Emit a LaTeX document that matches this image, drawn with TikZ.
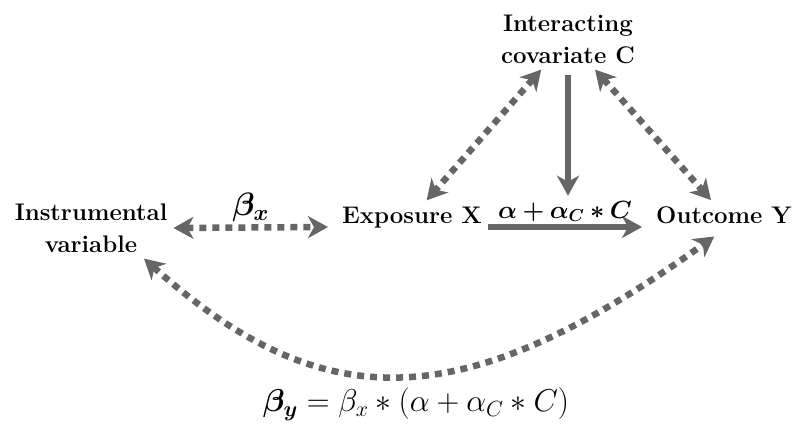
\documentclass[tikz,border=0pt]{standalone}
\usepackage{amsmath,bm}
\usetikzlibrary{arrows.meta}
\definecolor{arrowgray}{HTML}{666666}

\begin{document}
\begin{tikzpicture}[x=1pt,y=-1pt,
  every node/.style={font=\fontsize{24}{32}\selectfont\bfseries,inner sep=6pt},
  ghead/.tip={Stealth[length=20pt,width=22pt,inset=6pt]},
  dotarrow/.style={arrowgray,line width=6.5pt,dash pattern=on 7pt off 6pt,ghead-ghead},
  solidarrow/.style={arrowgray,line width=6.5pt,-ghead},
  lab/.style={inner sep=2pt,text=black}]
  \useasboundingbox (0,0) rectangle (796,425);
  \node[align=center] (iv) at (91,228) {Instrumental\\variable};
  \node[anchor=base] (expo) at (412,223) {Exposure X};
  \node[anchor=base] (outc) at (724,223) {Outcome Y};
  \node[align=center] (cov) at (568,39) {Interacting\\covariate C};
  \draw[dotarrow] (iv.east) -- ([xshift=-8pt,yshift=-4pt]expo.base west)
    node[midway,above,lab] {\scalebox{1.3}{$\bm{\beta_x}$}};
  \draw[solidarrow] ([yshift=-4pt]expo.base east) -- ([xshift=-8pt,yshift=-4pt]outc.base west)
    node[midway,above,lab] (lbl) {$\bm{\alpha+\alpha_C*C}$};
  \draw[solidarrow,shorten <=5pt] (cov) -- (cov |- lbl.north);
  \draw[dotarrow] (cov) -- (expo);
  \draw[dotarrow] (cov) -- (outc);
  \draw[dotarrow,shorten >=12pt] (iv.-30) .. controls +(180,161) and +(-260,187) .. (outc.south);
  \node (res) at (416,404) {\scalebox{1.27}{$\bm{\beta_y}=\beta_x*(\alpha+\alpha_C*C)$}};
\end{tikzpicture}
\end{document}
